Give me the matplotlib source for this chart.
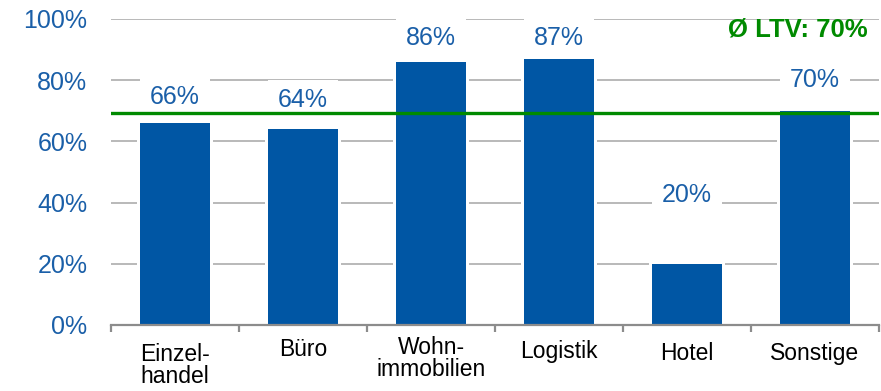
import matplotlib
matplotlib.use("Agg")
import matplotlib.pyplot as plt
import matplotlib.transforms as mtransforms
from matplotlib.patches import Rectangle

# Loan-to-value by property type
categories = ["Einzel-\nhandel", "Büro", "Wohn-\nimmobilien", "Logistik", "Hotel", "Sonstige"]
ltv_values = [66, 64, 86, 87, 20, 70]
value_labels = ["66%", "64%", "86%", "87%", "20%", "70%"]
average_ltv = 70
average_label = "Ø LTV: 70%"
y_ticks = [0, 20, 40, 60, 80, 100]
y_tick_labels = ["0%", "20%", "40%", "60%", "80%", "100%"]

# label placement (data units) and small per-label vertical nudges (points)
label_y = [74.5, 73.5, 93.7, 93.8, 42.5, 80.0]
cat_nudge = [-3, 1, 2, -1, -2, -2]

BAR_BLUE = "#0056a4"
TEXT_BLUE = "#1a5fa8"
GREEN = "#008a00"
GRID = "#b3b3b3"
AXIS = "#8c8c8c"

plt.rcParams["font.family"] = ["Liberation Sans", "DejaVu Sans"]

fig = plt.figure(figsize=(8.81, 3.91), dpi=100)
ax = fig.add_axes([111 / 881, 66 / 391, 768 / 881, 306 / 391])
ax.set_xlim(-0.5, len(categories) - 0.5)
ax.set_ylim(0, 100)

x = list(range(len(categories)))
bar_w = 0.55

# horizontal gridlines
for t in y_ticks[1:]:
    ax.axhline(t, color=GRID, lw=1.3, zorder=1)

# white halo behind bars so gridlines stop short of them
ax.bar(x, [v + 0.9 for v in ltv_values], width=bar_w + 0.05, color="white", zorder=2)
ax.bar(x, ltv_values, width=bar_w, color=BAR_BLUE, zorder=3)

# value labels on white panels of bar width
for xi, ly, txt in zip(x, label_y, value_labels):
    ax.add_patch(Rectangle((xi - bar_w / 2, ly - 6.5), bar_w, 13.0,
                           facecolor="white", edgecolor="none", zorder=4))
    ax.text(xi, ly, txt, ha="center", va="center", fontsize=18,
            color=TEXT_BLUE, zorder=5)

# average line
ax.axhline(average_ltv - 0.7, color=GREEN, lw=2.4, zorder=6)
ax.text(0.985, 0.965, average_label, transform=ax.transAxes, ha="right",
        va="center", fontsize=18.5, fontweight="bold", color=GREEN, zorder=7)

# axes styling
for side in ("top", "right", "left"):
    ax.spines[side].set_visible(False)
ax.spines["bottom"].set_color(AXIS)
ax.spines["bottom"].set_linewidth(1.6)
ax.spines["bottom"].set_zorder(8)

ax.set_yticks(y_ticks)
ax.set_yticklabels(y_tick_labels, fontsize=18, color=TEXT_BLUE)
ax.tick_params(axis="y", length=0, pad=17)

ax.set_xticks(x)
ax.set_xticklabels(categories, fontsize=16.5, color="black", linespacing=0.95)
ax.tick_params(axis="x", which="major", length=0, pad=10)
ax.set_xticks([i - 0.5 for i in range(len(categories) + 1)], minor=True)
ax.tick_params(axis="x", which="minor", length=5, width=1.6, color=AXIS, direction="out")

for lbl, dy in zip(ax.get_xticklabels(), cat_nudge):
    lbl.set_transform(lbl.get_transform() +
                      mtransforms.ScaledTranslation(0, dy / 72, fig.dpi_scale_trans))

fig.savefig("out.png", dpi=100)
